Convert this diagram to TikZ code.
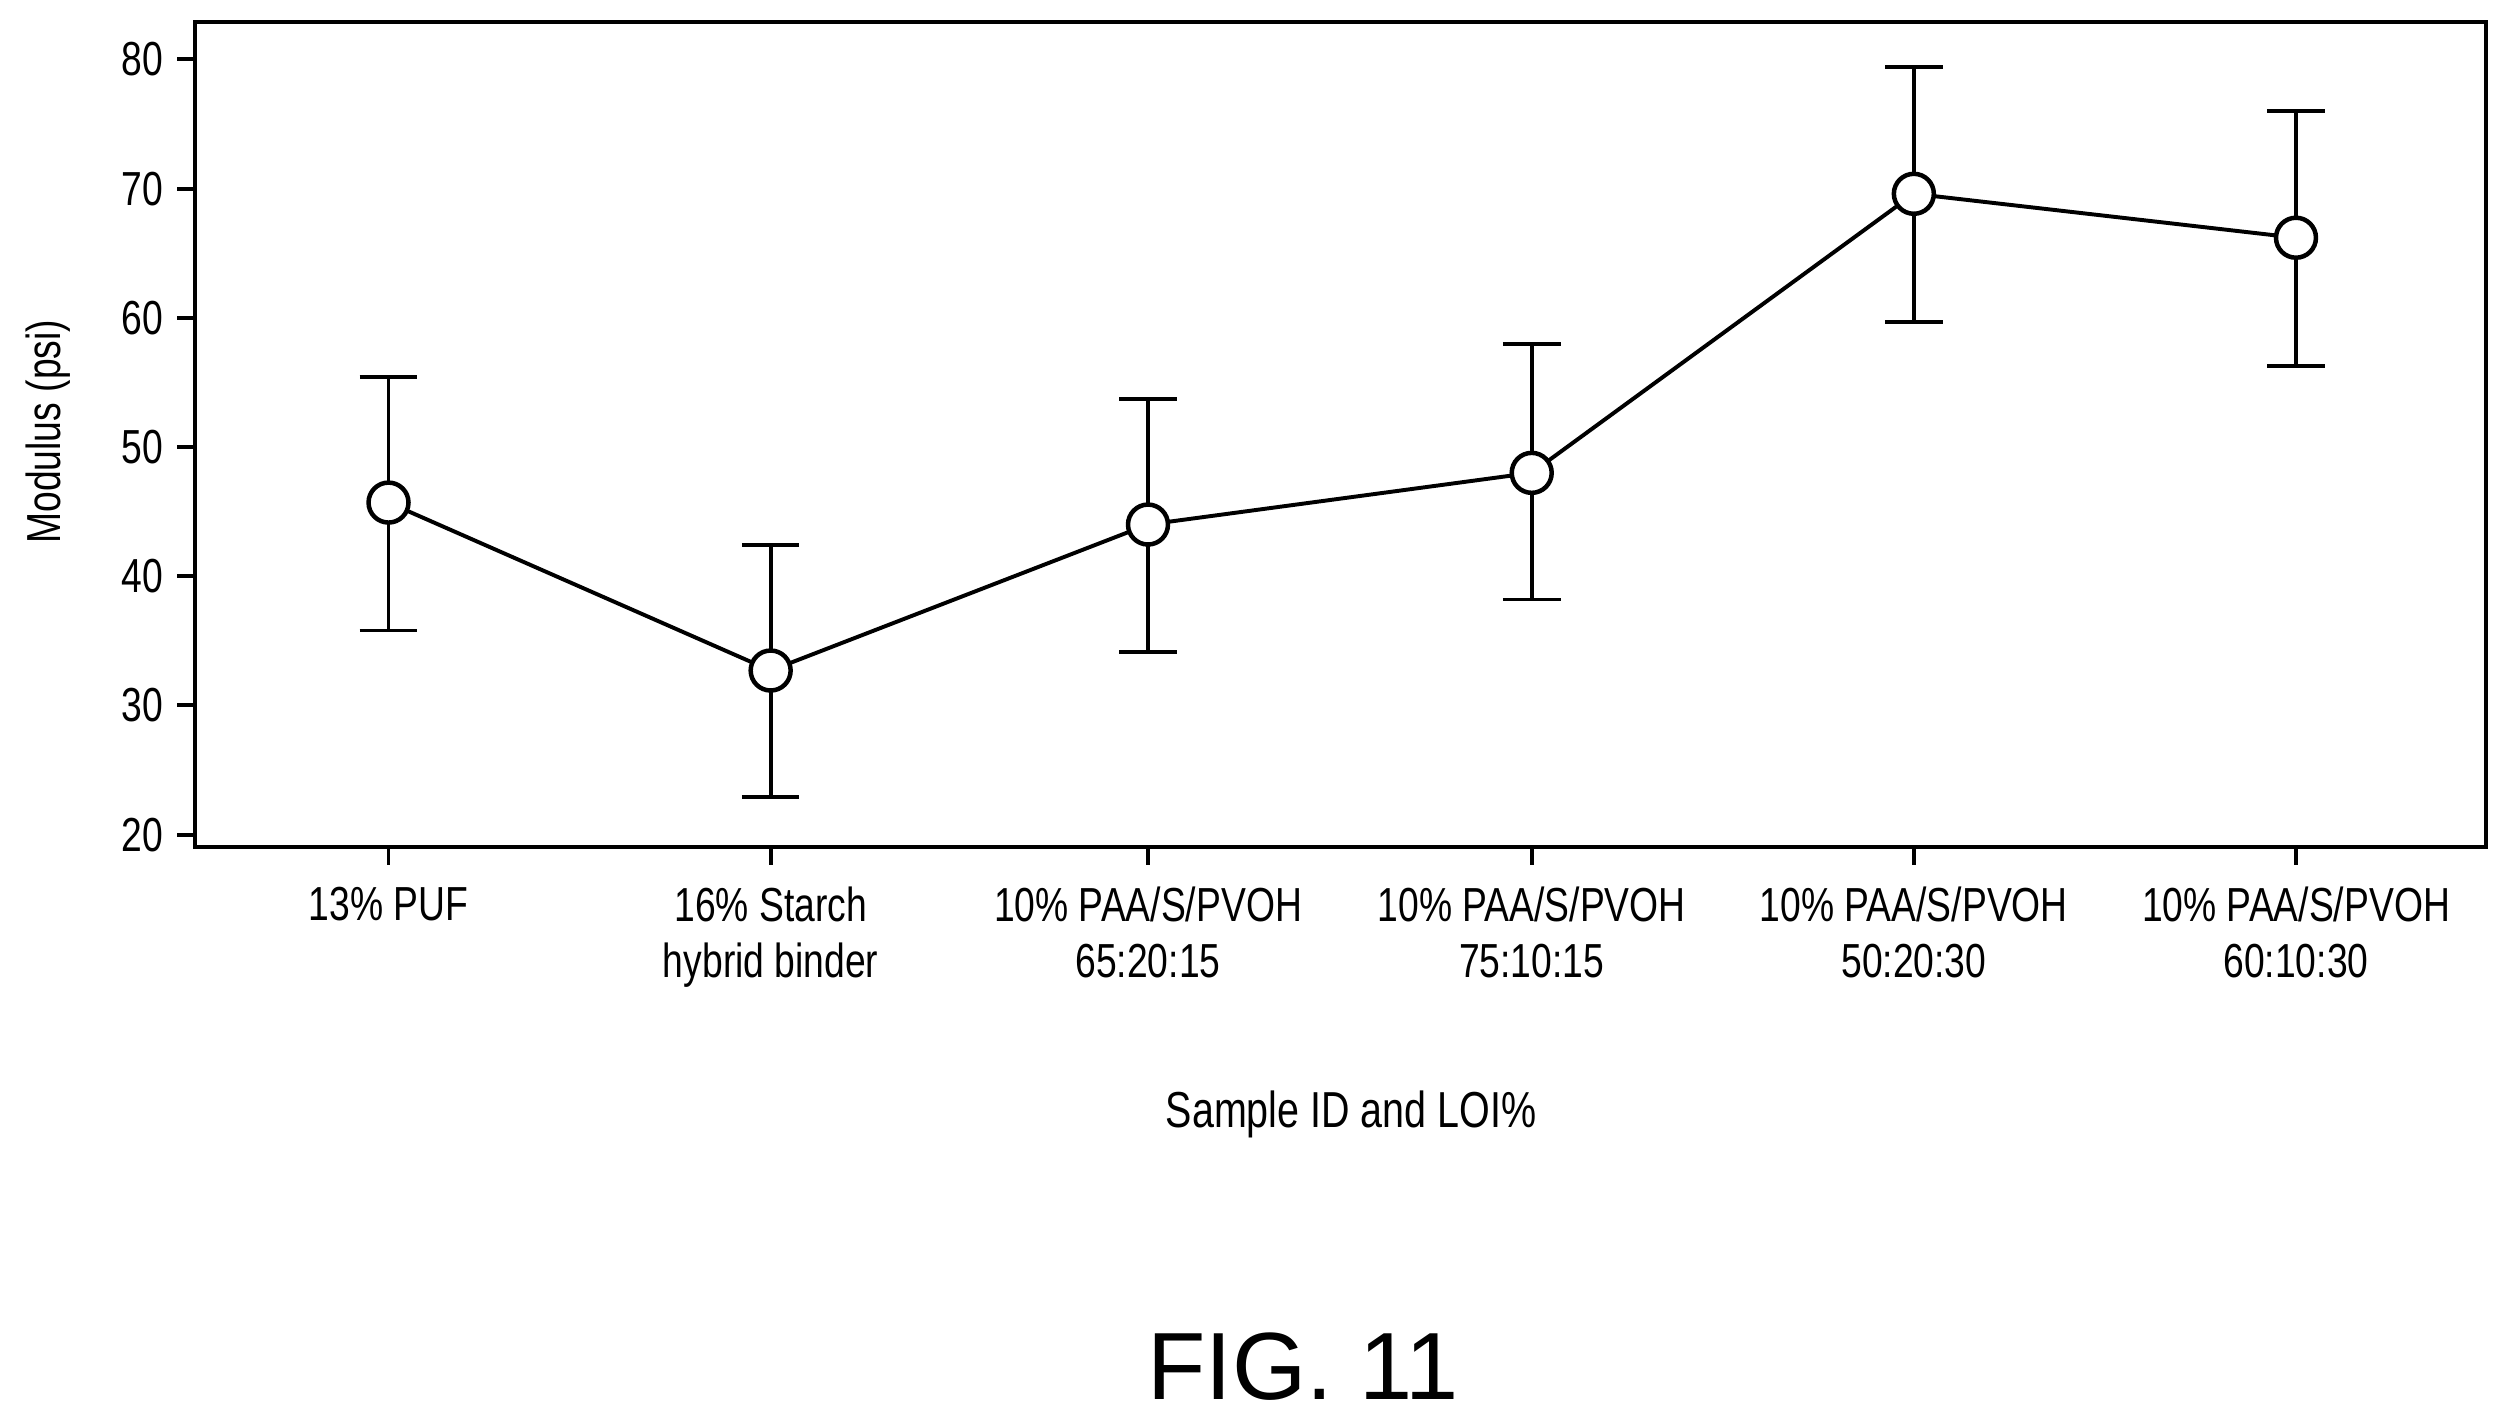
\documentclass[tikz,border=0pt]{standalone}
\usepackage{fontspec}
\setmainfont{Liberation Sans}[FakeStretch=0.78]
\newfontfamily\figfont{Liberation Sans}
\usetikzlibrary{positioning}
\tikzset{pt node/.style={circle,draw,line width=1.6pt,fill=white,minimum size=0.5cm,inner sep=0pt},
tick label/.style={font=\fontsize{17}{19}\selectfont,anchor=east},
cat label/.style={font=\fontsize{17}{20}\selectfont,align=center,anchor=north}}
\begin{document}
\begin{tikzpicture}[line width=1.4pt]
\useasboundingbox (0,0) rectangle (31.36,17.8);
\draw (2.44,7.2) rectangle (31.1,17.52);
\foreach \v in {20,30,...,80}{
\draw (2.44,{7.36+(\v-20)*0.1616}) -- ++(-0.22,0);
\node[tick label] at (2.18,{7.36+(\v-20)*0.1616}) {\v};
}
\node[rotate=90,font=\fontsize{17}{19}\selectfont] (ytitle) at (0.6,12.4) {Modulus (psi)};
% error bars and points
\foreach \x/\m/\hi/\lo/\n in {4.86/45.7/55.4/35.8/a,9.64/32.7/42.4/22.9/b,14.36/44/53.7/34.1/c,19.16/48/58/38.2/d,23.94/69.6/79.4/59.7/e,28.72/66.2/76/56.3/f}{
\draw (\x,{7.36+(\lo-20)*0.1616}) -- (\x,{7.36+(\hi-20)*0.1616});
\draw (\x-0.36,{7.36+(\lo-20)*0.1616}) -- (\x+0.36,{7.36+(\lo-20)*0.1616});
\draw (\x-0.36,{7.36+(\hi-20)*0.1616}) -- (\x+0.36,{7.36+(\hi-20)*0.1616});
\draw (\x,7.2) -- ++(0,-0.22);
\coordinate (\n) at (\x,{7.36+(\m-20)*0.1616});
}
\draw (a) -- (b) -- (c) -- (d) -- (e) -- (f);
\foreach \n in {a,b,c,d,e,f}{\node[pt node] (p\n) at (\n) {};}
\node[cat label] (la) at (4.86,6.85) {13\% PUF};
\node[cat label] (lb) at (9.64,6.85) {16\% Starch\\hybrid binder};
\node[cat label] (lc) at (14.36,6.85) {10\% PAA/S/PVOH\\65:20:15};
\node[cat label] (ld) at (19.16,6.85) {10\% PAA/S/PVOH\\75:10:15};
\node[cat label] (le) at (23.94,6.85) {10\% PAA/S/PVOH\\50:20:30};
\node[cat label] (lf) at (28.72,6.85) {10\% PAA/S/PVOH\\60:10:30};
\node[font=\fontsize{18}{20}\selectfont] (xtitle) at (16.9,3.86) {Sample ID and LOI\%};
\node[font=\figfont\fontsize{34}{38}\selectfont] (fig) at (16.3,0.7) {FIG. 11};
\end{tikzpicture}
\end{document}
